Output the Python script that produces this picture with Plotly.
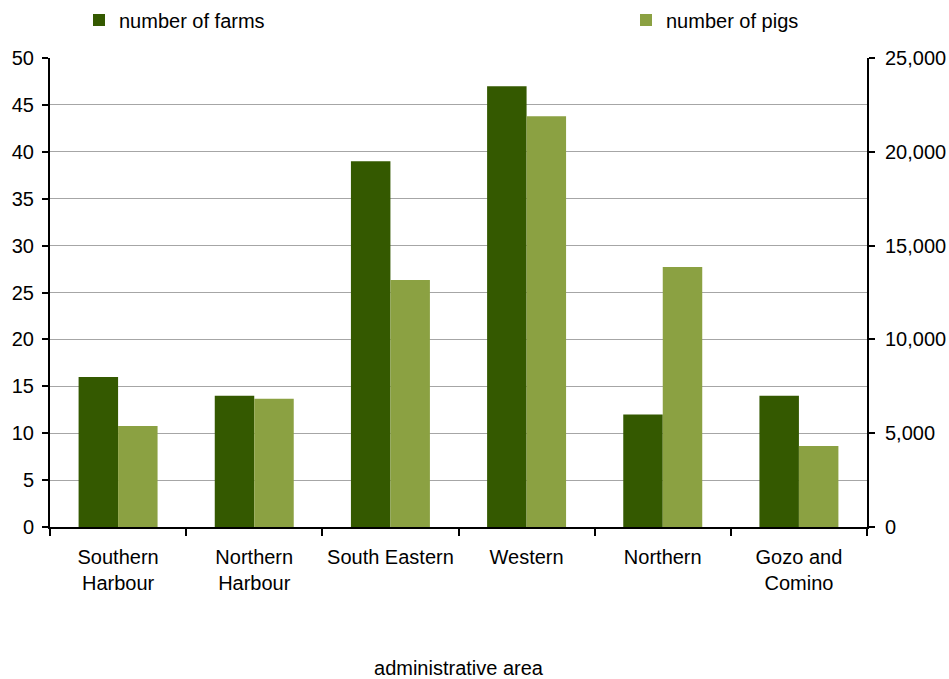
import plotly.graph_objects as go

categories = ["Southern<br>Harbour", "Northern<br>Harbour", "South Eastern", "Western", "Northern", "Gozo and<br>Comino"]
farms = [16, 14, 39, 47, 12, 14]
pigs = [5380, 6830, 13170, 21900, 13860, 4320]
left_ticks = [0, 5, 10, 15, 20, 25, 30, 35, 40, 45, 50]
right_ticks = [0, 5000, 10000, 15000, 20000, 25000]

FONT = "Liberation Sans, Arial, sans-serif"
FS = 20

fig = go.Figure()
fig.add_trace(go.Bar(x=categories, y=farms, name="number of farms",
                     marker=dict(color="#345900", line=dict(width=0)),
                     offsetgroup="a", yaxis="y", legend="legend"))
fig.add_trace(go.Bar(x=categories, y=pigs, name="number of pigs",
                     marker=dict(color="#8ba142", line=dict(width=0)),
                     offsetgroup="b", yaxis="y2", legend="legend2"))

leg_common = dict(xref="container", yref="container", xanchor="left", yanchor="middle",
                  font=dict(size=FS, family=FONT), itemwidth=30, bgcolor="rgba(0,0,0,0)")

fig.update_layout(
    width=949, height=679,
    margin=dict(l=50, r=82, t=58, b=152, autoexpand=False),
    paper_bgcolor="white", plot_bgcolor="white",
    font=dict(family=FONT, size=FS, color="black"),
    barmode="group", bargap=0.42, bargroupgap=0,
    showlegend=True,
    legend=dict(x=79 / 949, y=1 - 20 / 679, **leg_common),
    legend2=dict(x=626 / 949, y=1 - 20 / 679, **leg_common),
    xaxis=dict(type="category", showline=True, linecolor="black", linewidth=2,
               ticks="outside", ticklen=7, tickwidth=1.5, tickcolor="black",
               tickson="boundaries", showgrid=False, automargin=False,
               ticklabelstandoff=11, tickangle=0,
               title=dict(text="administrative area", font=dict(size=FS), standoff=74),
               tickfont=dict(size=FS)),
    yaxis=dict(range=[0, 50], tickvals=left_ticks, showline=True, linecolor="black",
               linewidth=2, ticks="outside", ticklen=6, tickwidth=1.5, tickcolor="black",
               showgrid=True, gridcolor="#a6a6a6", gridwidth=1, zeroline=False,
               automargin=False, ticklabelstandoff=4, tickfont=dict(size=FS)),
    yaxis2=dict(range=[0, 25000], tickvals=right_ticks, tickformat=",",
                overlaying="y", side="right", showline=True, linecolor="black",
                linewidth=2, ticks="outside", ticklen=6, tickwidth=1.5, tickcolor="black",
                showgrid=False, zeroline=False, automargin=False,
                ticklabelstandoff=6, tickfont=dict(size=FS)),
)

fig.write_html("out.html", config={"displayModeBar": False},
               post_script="document.body.style.margin='0px';")
